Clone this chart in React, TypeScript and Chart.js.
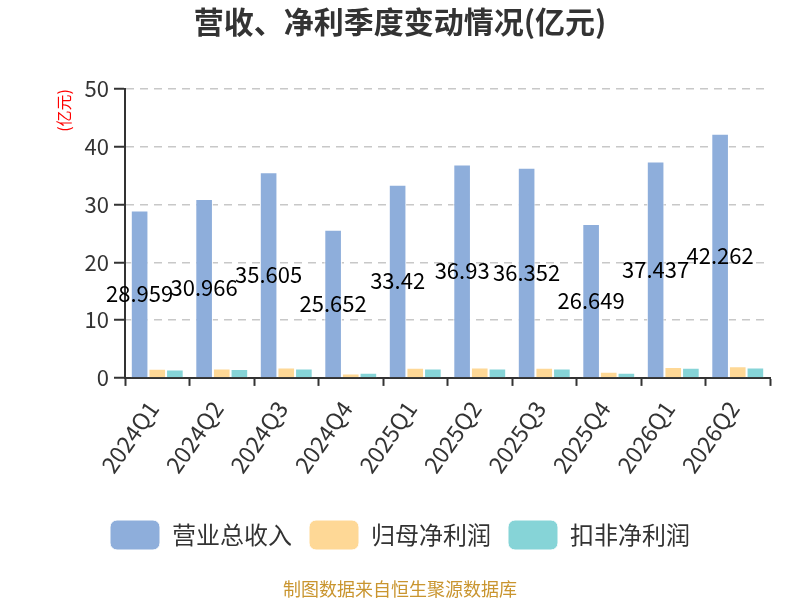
import Chart from "chart.js/auto";
import { useEffect, useRef } from "react";

const quarters = [
  "2024Q1",
  "2024Q2",
  "2024Q3",
  "2024Q4",
  "2025Q1",
  "2025Q2",
  "2025Q3",
  "2025Q4",
  "2026Q1",
  "2026Q2",
];
const revenue = [28.959, 30.966, 35.605, 25.652, 33.42, 36.93, 36.352, 26.649, 37.437, 42.262];
const netProfit = [1.58, 1.64, 1.8, 0.76, 1.76, 1.82, 1.76, 1.06, 1.88, 2.0];
const deductedProfit = [1.47, 1.52, 1.64, 0.88, 1.64, 1.64, 1.64, 0.88, 1.76, 1.82];
const seriesNames = ["营业总收入", "归母净利润", "扣非净利润"];
const yTicks = [0, 10, 20, 30, 40, 50];

const FONT = "'Noto Sans CJK SC', 'Noto Sans', sans-serif";

export default function App() {
  const canvasRef = useRef<HTMLCanvasElement | null>(null);
  const chartRef = useRef<Chart | null>(null);

  useEffect(() => {
    if (!canvasRef.current) {
      return;
    }
    if (chartRef.current) {
      chartRef.current.destroy();
    }

    // revenue values written in the middle of the blue bars
    const barLabels = {
      id: "barLabels",
      afterDatasetsDraw: (chart: Chart) => {
        const { ctx } = chart;
        const meta = chart.getDatasetMeta(0);
        ctx.save();
        ctx.font = `22px ${FONT}`;
        ctx.fillStyle = "#000";
        ctx.textAlign = "center";
        ctx.textBaseline = "middle";
        meta.data.forEach((bar: any, i: number) => {
          const y = (bar.y + bar.base) / 2;
          ctx.fillText(String(revenue[i]), bar.x, y);
        });
        ctx.restore();
      },
    };

    const footer = {
      id: "footer",
      afterDraw: (chart: Chart) => {
        const { ctx, width } = chart;
        ctx.save();
        ctx.font = `18px ${FONT}`;
        ctx.fillStyle = "#c9952f";
        ctx.textAlign = "center";
        ctx.textBaseline = "middle";
        ctx.fillText("制图数据来自恒生聚源数据库", width / 2, 589);
        ctx.restore();
      },
    };

    chartRef.current = new Chart(canvasRef.current, {
      type: "bar",
      data: {
        labels: quarters,
        datasets: [
          { label: seriesNames[0], data: revenue, backgroundColor: "#8eaedb" },
          { label: seriesNames[1], data: netProfit, backgroundColor: "#fed896" },
          { label: seriesNames[2], data: deductedProfit, backgroundColor: "#86d4d7" },
        ].map((d) => ({
          ...d,
          borderColor: "#ffffff",
          borderWidth: 1,
          categoryPercentage: 0.82,
          barPercentage: 1,
        })),
      },
      plugins: [barLabels, footer],
      options: {
        animation: false,
        responsive: true,
        maintainAspectRatio: false,
        layout: { padding: { left: 30, right: 30, top: 4, bottom: 40 } },
        plugins: {
          title: {
            display: true,
            text: "营收、净利季度变动情况(亿元)",
            color: "#333",
            font: { family: FONT, size: 30, weight: "bold" },
            padding: { top: 0, bottom: 49 },
          },
          legend: {
            position: "bottom",
            labels: {
              color: "#333",
              font: { family: FONT, size: 24 },
              boxWidth: 50,
              boxHeight: 30,
              useBorderRadius: true,
              borderRadius: 7,
              padding: 17,
            },
          },
          tooltip: { enabled: false },
        },
        scales: {
          x: {
            grid: {
              drawOnChartArea: false,
              drawTicks: true,
              tickLength: 8,
              tickColor: "#333",
              tickWidth: 2,
            },
            border: { color: "#333", width: 2 },
            ticks: {
              color: "#333",
              font: { family: FONT, size: 23 },
              minRotation: 55,
              maxRotation: 55,
              padding: 10,
              labelOffset: -4,
            },
            afterFit: (axis: any) => {
              axis.height += 15;
            },
          },
          y: {
            min: yTicks[0],
            max: yTicks[yTicks.length - 1],
            afterBuildTicks: (axis: any) => {
              axis.ticks = yTicks.map((v) => ({ value: v }));
            },
            afterFit: (axis: any) => {
              axis.width = 95;
            },
            grid: {
              color: "#c8c8c8",
              lineWidth: 1.5,
              tickLength: 11,
              tickColor: "#333",
              tickWidth: 2,
              tickBorderDash: [],
            },
            border: { color: "#333", width: 2, dash: [8, 6] },
            ticks: {
              color: "#333",
              font: { family: FONT, size: 22 },
              padding: 5,
            },
            title: {
              display: true,
              text: "(亿元)",
              color: "#ff0000",
              align: "end",
              font: { family: FONT, size: 16 },
              padding: { top: 24, bottom: 11 },
            },
          },
        },
      } as any,
    });

    return () => {
      chartRef.current?.destroy();
    };
  }, []);

  return (
    <div style={{ position: "absolute", left: 0, top: 0, width: 800, height: 600, background: "#fff" }}>
      <canvas ref={canvasRef} />
    </div>
  );
}
